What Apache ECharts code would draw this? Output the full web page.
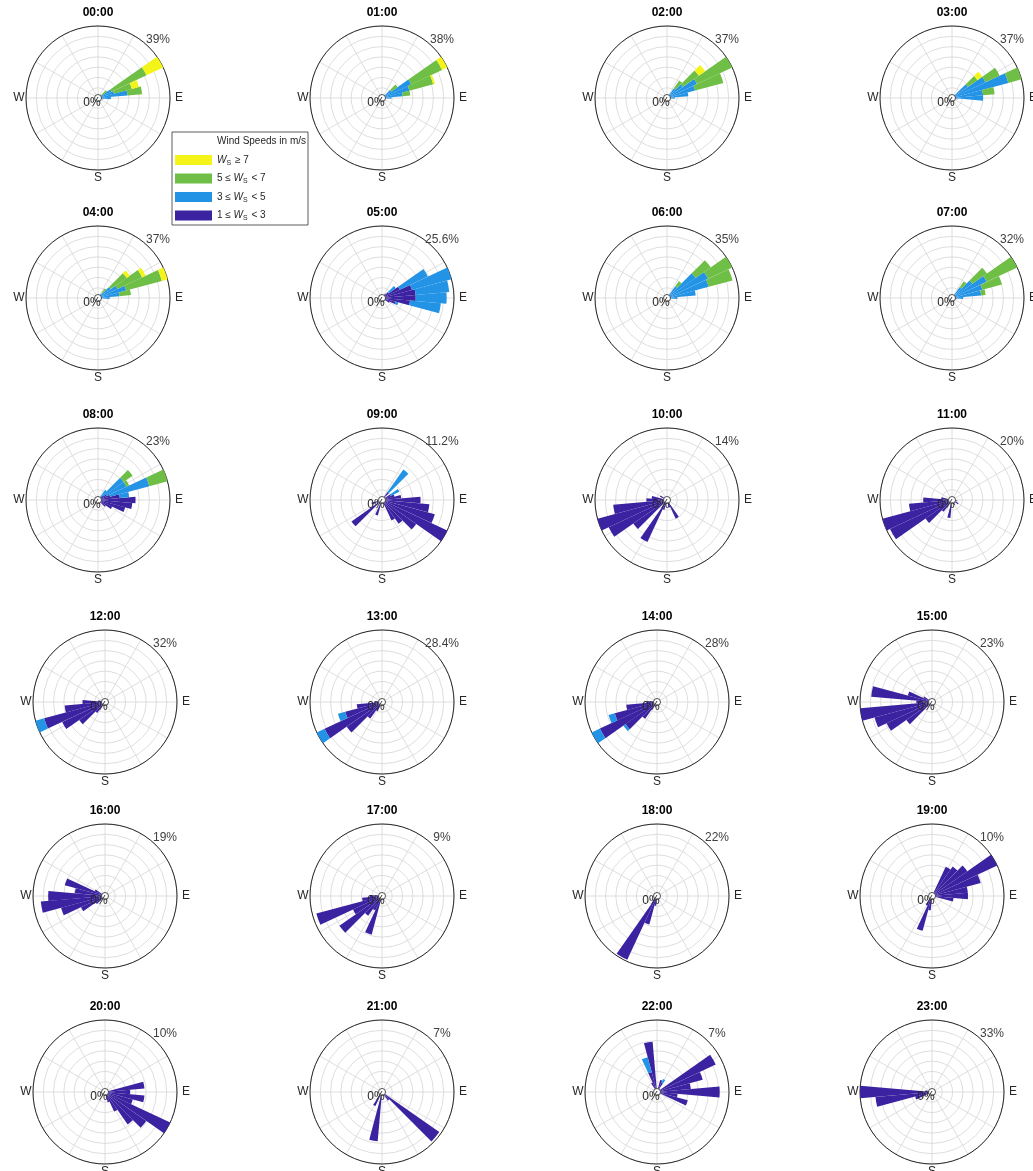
<!DOCTYPE html>
<html>
<head>
<meta charset="utf-8">
<script src="https://cdn.jsdelivr.net/npm/echarts@6/dist/echarts.min.js"></script>
<style>
  html, body { margin: 0; padding: 0; background: #fff; }
  #rose { width: 1033px; height: 1171px; }
</style>
</head>
<body>
<div id="rose"></div>
<script>
// hours and outer-ring label (%) of each rose
const hours = ['00:00', '01:00', '02:00', '03:00', '04:00', '05:00', '06:00', '07:00',
  '08:00', '09:00', '10:00', '11:00', '12:00', '13:00', '14:00', '15:00',
  '16:00', '17:00', '18:00', '19:00', '20:00', '21:00', '22:00', '23:00'];
const maxPct = [39, 38, 37, 37, 37, 25.6, 35, 32, 23, 11.2, 14, 20, 32, 28.4, 28, 23, 19, 9, 22, 10, 10, 7, 7, 33];

const speedNames = ['1 ≤ Ws < 3', '3 ≤ Ws < 5', '5 ≤ Ws < 7', 'Ws ≥ 7'];
const speedColors = ['#3b22a0', '#2393e6', '#6fbf47', '#f4f41a'];

// direction bins, degrees clockwise from north
const dirs = [];
for (let a = 0; a < 360; a += 10) dirs.push(a);

// [direction, 1-3, 3-5, 5-7, >=7] in % (missing = 0)
const rose00 = [[50, 0, 2, 4], [60, 0, 8, 21, 10], [70, 0, 9, 10, 4], [80, 1, 15, 8], [90, 1, 6], [100, 1, 2]];
const rose01 = [[50, 0, 6, 4], [60, 1, 16, 18, 3], [70, 1, 14, 13, 1], [80, 1, 10, 4], [90, 1, 4]];
const rose02 = [[40, 1, 5, 5], [50, 1, 9, 10, 4], [60, 1, 16, 20], [70, 1, 14, 15], [80, 1, 10], [90, 1, 3]];
const rose03 = [[50, 1, 9, 6, 3], [60, 1, 18, 8], [70, 2, 28, 7], [80, 2, 14, 6], [90, 2, 14], [100, 1, 2]];
const rose04 = [[40, 0, 3, 3], [50, 1, 7, 10, 2], [60, 1, 10, 14, 2], [70, 1, 14, 19, 3], [80, 1, 10, 6], [90, 1, 5]];
const rose05 = [[40, 2], [50, 3, 3], [60, 7, 11], [70, 11, 14.6], [80, 12, 12], [90, 12, 11], [100, 10, 11], [110, 5, 1], [120, 3]];
const rose06 = [[40, 1, 6, 3], [50, 1, 16, 9], [60, 1, 21, 13], [70, 1, 20, 12], [80, 1, 13], [90, 1, 4]];
const rose07 = [[40, 1, 5, 3], [50, 1, 10, 8], [60, 1, 16, 15], [70, 1, 13, 9], [80, 1, 12, 2], [90, 2, 3], [100, 2]];
const rose08 = [[40, 1, 3], [50, 2, 8, 3.5], [60, 3, 7, 1], [70, 4, 13, 6], [80, 7, 3], [90, 12], [100, 11], [110, 9],
  [120, 5], [130, 3], [250, 1]];
const rose09 = [[40, 1.5, 4.3], [60, 1.5, 1.5], [70, 2], [80, 3], [90, 6], [100, 7.4], [110, 8.5], [120, 11.2], [130, 6.5],
  [140, 4.5], [150, 3.5], [200, 2.5], [230, 5.8], [250, 1.7]];
const rose10 = [[150, 4], [160, 1.5], [200, 2], [210, 9], [220, 1], [230, 8], [240, 12.5], [250, 14], [260, 10.5], [270, 4],
  [280, 3], [300, 1.5]];
const rose11 = [[100, 1.5], [120, 2], [150, 1.5], [190, 5], [220, 4], [230, 9], [240, 19], [250, 20], [260, 12], [270, 8], [280, 3]];
const rose12 = [[200, 2], [220, 6], [230, 14], [240, 21], [250, 28, 4], [260, 18], [270, 10], [280, 3]];
const rose13 = [[210, 4], [220, 8], [230, 17], [240, 25, 3.4], [250, 15, 3], [260, 10], [270, 3]];
const rose14 = [[200, 2], [220, 8], [230, 15, 1], [240, 24.5, 3.5], [250, 17, 2.5], [260, 12], [270, 4]];
const rose15 = [[230, 10], [240, 16], [250, 19], [260, 23], [270, 5], [280, 19.5], [290, 8], [300, 3]];
const rose16 = [[230, 3], [240, 7], [250, 12], [260, 17], [270, 15], [280, 8], [290, 11], [300, 3]];
const rose17 = [[200, 5], [210, 2], [220, 3], [230, 6.5], [240, 4], [250, 8.5], [260, 2.5], [270, 1.5]];
const rose18 = [[190, 3], [200, 9], [210, 21.5], [220, 2]];
const rose19 = [[30, 4.5], [40, 5], [50, 6], [60, 10], [70, 7], [80, 5], [90, 5], [100, 3], [190, 2], [200, 5], [210, 1.5]];
const rose20 = [[80, 5.5], [90, 3.5], [100, 5.5], [110, 4], [120, 10], [130, 7], [140, 5.5], [150, 3], [160, 1.5]];
const rose21 = [[130, 6.8], [140, 1], [190, 4.8], [210, 1.5]];
const rose22 = [[20, 1.2], [30, 1, 0.4], [60, 6.3], [70, 4.6], [80, 3.3], [90, 6.1], [100, 2], [110, 3.1], [330, 1],
  [340, 2, 1.5], [350, 4.9]];
const rose23 = [[250, 8], [260, 26], [270, 33], [280, 3]];
const roses = [rose00, rose01, rose02, rose03, rose04, rose05, rose06, rose07, rose08, rose09, rose10, rose11,
  rose12, rose13, rose14, rose15, rose16, rose17, rose18, rose19, rose20, rose21, rose22, rose23];

// layout of the 4 x 6 panel grid
const rowY = [98, 298, 500, 702, 896, 1092];
const colXTop = [98, 382, 667, 952];
const colXBottom = [105, 382, 657, 932];
const R = 72;
const FONT = '"Liberation Sans", Arial, sans-serif';

const chart = echarts.init(document.getElementById('rose'));

const polar = [], angleAxis = [], radiusAxis = [], series = [], graphic = [];
const hidden = { axisLine: { show: false }, axisTick: { show: false }, axisLabel: { show: false }, splitLine: { show: false } };
const gridLine = { lineStyle: { color: '#d6d6d6', width: 0.8 } };

hours.forEach((h, i) => {
  const row = Math.floor(i / 4), col = i % 4;
  const cx = (row < 3 ? colXTop : colXBottom)[col];
  const cy = rowY[row];

  // polar 2i: the grid (spokes every 30°, 7 rings), polar 2i+1: the bars
  polar.push({ center: [cx, cy], radius: R }, { center: [cx, cy], radius: R });

  angleAxis.push({
    polarIndex: 2 * i, type: 'value', min: 0, max: 360, interval: 30, startAngle: 90, clockwise: true,
    axisLine: { lineStyle: { color: '#262626', width: 1 } }, axisTick: { show: false }, axisLabel: { show: false },
    splitLine: gridLine
  });
  radiusAxis.push({
    polarIndex: 2 * i, type: 'value', min: 0, max: 7, interval: 1,
    axisLine: { show: false }, axisTick: { show: false }, axisLabel: { show: false }, splitLine: gridLine
  });
  angleAxis.push(Object.assign({ polarIndex: 2 * i + 1, type: 'category', data: dirs, startAngle: 95, clockwise: true }, hidden));
  radiusAxis.push(Object.assign({ polarIndex: 2 * i + 1, type: 'value', min: 0, max: maxPct[i] }, hidden));

  for (let k = 0; k < 4; k++) {
    const vals = dirs.map(() => 0);
    roses[i].forEach(b => { vals[b[0] / 10] = b[k + 1] || 0; });
    series.push({
      type: 'bar', name: speedNames[k], coordinateSystem: 'polar', polarIndex: 2 * i + 1,
      stack: 'hour' + i, data: vals, barWidth: '100%', barCategoryGap: '0%', silent: true,
      itemStyle: { color: speedColors[k] }
    });
  }

  const txt = (x, y, text, font, fill, align) => ({
    type: 'text', x: x, y: y, z: 50, silent: true,
    style: { text: text, font: font, fill: fill, align: align || 'center', verticalAlign: 'middle' }
  });
  graphic.push(
    { type: 'circle', shape: { cx: cx, cy: cy, r: 3.5 }, style: { fill: '#fff', stroke: '#262626', lineWidth: 0.8 }, z: 49, silent: true },
    txt(cx, cy - 85, h, 'bold 12px ' + FONT, '#000'),
    txt(cx - 79, cy, 'W', '12px ' + FONT, '#262626'),
    txt(cx + 81, cy, 'E', '12px ' + FONT, '#262626'),
    txt(cx, cy + 80, 'S', '12px ' + FONT, '#262626'),
    txt(cx - 6, cy + 5, '0%', '12px ' + FONT, '#262626'),
    txt(cx + 60, cy - 58, maxPct[i] + '%', '12px ' + FONT, '#404040')
  );
});

// legend box
graphic.push(
  { type: 'rect', shape: { x: 172, y: 132, width: 136, height: 93 }, style: { fill: '#fff', stroke: '#333', lineWidth: 0.8 }, z: 15, silent: true },
  { type: 'text', x: 306, y: 141, z: 21, silent: true,
    style: { text: 'Wind Speeds in m/s', font: '10px ' + FONT, fill: '#262626', align: 'right', verticalAlign: 'middle' } }
);

const legendText = {
  'Ws ≥ 7': '{w|W}{s|S} ≥ 7',
  '5 ≤ Ws < 7': '5 ≤ {w|W}{s|S} < 7',
  '3 ≤ Ws < 5': '3 ≤ {w|W}{s|S} < 5',
  '1 ≤ Ws < 3': '1 ≤ {w|W}{s|S} < 3'
};

chart.setOption({
  animation: false,
  polar: polar,
  angleAxis: angleAxis,
  radiusAxis: radiusAxis,
  series: series,
  graphic: graphic,
  legend: {
    data: [speedNames[3], speedNames[2], speedNames[1], speedNames[0]],
    orient: 'vertical', left: 170, top: 150, z: 20,
    icon: 'rect', itemWidth: 37, itemHeight: 10, itemGap: 7, itemStyle: { borderWidth: 0 },
    formatter: name => legendText[name],
    textStyle: {
      fontFamily: FONT, fontSize: 10, color: '#262626',
      rich: {
        w: { fontFamily: FONT, fontSize: 10, fontStyle: 'italic', color: '#262626' },
        s: { fontFamily: FONT, fontSize: 7, color: '#262626', verticalAlign: 'bottom', padding: [6, 1, 0, 0] }
      }
    }
  }
});
</script>
</body>
</html>
